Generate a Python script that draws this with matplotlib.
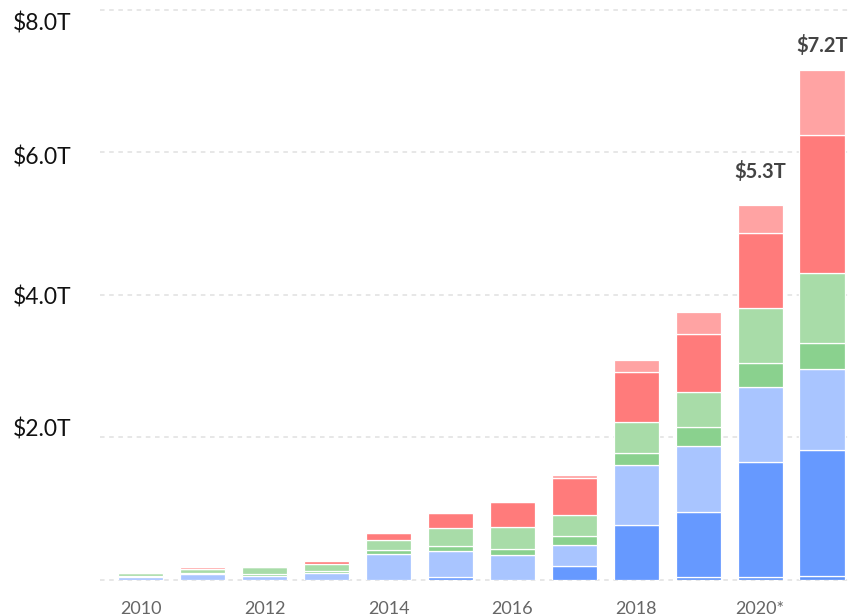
import matplotlib
matplotlib.use("Agg")
import matplotlib.pyplot as plt
import matplotlib.transforms as mtransforms
import numpy as np

# values in trillions of dollars, stacked bottom -> top
years = ["2010", "2011", "2012", "2013", "2014", "2015",
         "2016", "2017", "2018", "2019", "2020*", "2021"]
base_blue = [0, 0, 0, 0, 0, 0, 0, 0, 0, 0.047, 0.047, 0.056]
dark_blue = [0, 0, 0, 0, 0, 0.04, 0, 0.19, 0.77, 0.91, 1.61, 1.77]
light_blue = [0.045, 0.08, 0.06, 0.10, 0.365, 0.37, 0.345, 0.30, 0.85, 0.925, 1.05, 1.135]
dark_green = [0.01, 0.02, 0.03, 0.03, 0.05, 0.07, 0.095, 0.125, 0.16, 0.265, 0.335, 0.365]
light_green = [0.04, 0.06, 0.09, 0.09, 0.14, 0.25, 0.30, 0.30, 0.435, 0.49, 0.78, 0.98]
red = [0, 0, 0, 0.05, 0.11, 0.215, 0.36, 0.515, 0.70, 0.82, 1.04, 1.94]
pink = [0, 0.025, 0.02, 0, 0, 0, 0, 0.047, 0.165, 0.30, 0.40, 0.91]

tick_years = ["2010", "2012", "2014", "2016", "2018", "2020*"]
yticks = [2, 4, 6, 8]
annotated = ["2020*", "2021"]

SERIES = [
    (base_blue, "#5f93f7"),
    (dark_blue, "#6699ff"),
    (light_blue, "#a9c5ff"),
    (dark_green, "#8ad18e"),
    (light_green, "#a8dca8"),
    (red, "#ff7b7b"),
    (pink, "#ffa3a3"),
]
# label offset above the bar top, in points
LABEL_OFFSET = {"2020*": 19, "2021": 13}
# the y labels sit a little off their gridlines in the original (pixels, + = up)
YLABEL_SHIFT = [10, -1, -3, -12]

plt.rcParams["font.family"] = ["Lato", "DejaVu Sans"]

fig = plt.figure(figsize=(8.48, 6.16), dpi=100, facecolor="white")
ax = fig.add_axes([100 / 848, 36 / 616, 748 / 848, 577.5 / 616])

x = np.arange(len(years))
bottom = np.zeros(len(years))
for vals, color in SERIES:
    vals = np.array(vals)
    ax.bar(x, vals, width=0.727, bottom=bottom, color=color,
           edgecolor="white", linewidth=0.9, zorder=3)
    bottom += vals

totals = bottom
for yr in annotated:
    i = years.index(yr)
    ax.annotate(f"${totals[i]:.1f}T", (x[i], totals[i]), xytext=(0, LABEL_OFFSET[yr]),
                textcoords="offset points", ha="center", va="baseline",
                fontsize=14.5, fontweight="bold", color="#444444")

ax.set_xlim(-0.662, 11.42)
ax.set_ylim(0, 8.1)
ax.set_xticks([years.index(t) for t in tick_years])
ax.set_xticklabels(tick_years, fontsize=13, color="#666666")
ax.set_yticks(yticks)
ax.set_yticklabels([f"${v:.1f}T" for v in yticks], fontsize=16.5, color="#111111", ha="left")
ax.tick_params(axis="y", length=0, pad=63)
ax.tick_params(axis="x", length=0, pad=15)

for lab, dy in zip(ax.get_yticklabels(), YLABEL_SHIFT):
    lab.set_transform(lab.get_transform() +
                      mtransforms.ScaledTranslation(0, dy / 100, fig.dpi_scale_trans))

for v in [0] + yticks:
    ax.axhline(v, color="#e0e0e0", lw=1.1, ls=(0, (3, 3)), zorder=1, clip_on=False)
for spine in ax.spines.values():
    spine.set_visible(False)

fig.savefig("out.png", dpi=100)
